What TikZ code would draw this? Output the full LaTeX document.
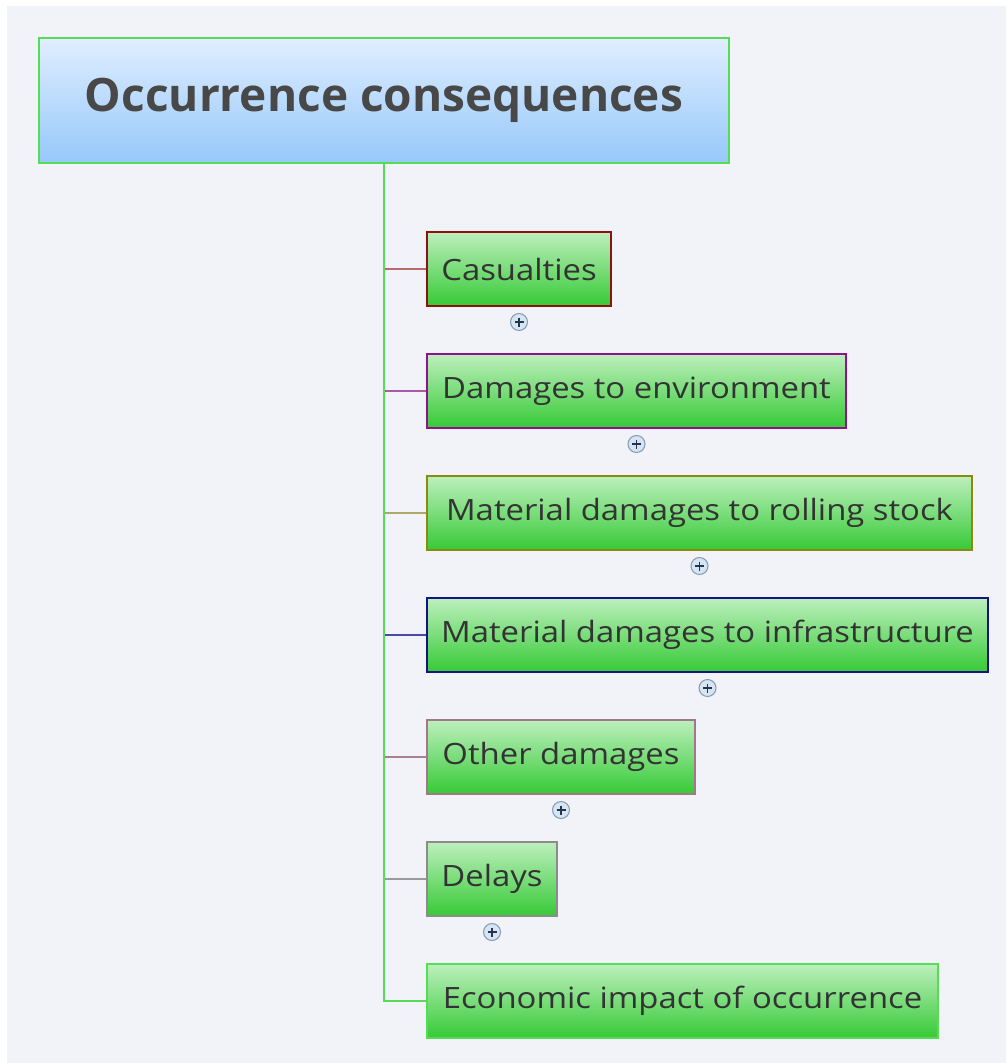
\documentclass[tikz,border=0pt]{standalone}
\usepackage{fontspec}
\setmainfont{Open Sans}
\newfontfamily\childfont[FakeStretch=1.12]{Open Sans}
\usetikzlibrary{calc}
\definecolor{bgc}{HTML}{F2F3F8}
\definecolor{rootTop}{HTML}{E0EEFF}
\definecolor{rootBot}{HTML}{96C8FA}
\definecolor{trunkc}{HTML}{55DD55}
\definecolor{cTop}{HTML}{BDEFBD}
\definecolor{cBot}{HTML}{36CA36}
\definecolor{txtc}{HTML}{333333}
\definecolor{roottxt}{HTML}{484848}
\definecolor{b1}{HTML}{8E1010}
\definecolor{l1}{HTML}{B86A6A}
\definecolor{b2}{HTML}{901090}
\definecolor{l2}{HTML}{A85AA8}
\definecolor{b3}{HTML}{8A8A10}
\definecolor{l3}{HTML}{B0A868}
\definecolor{b4}{HTML}{141488}
\definecolor{l4}{HTML}{4A4AA8}
\definecolor{b5}{HTML}{A07888}
\definecolor{l5}{HTML}{A8808E}
\definecolor{b6}{HTML}{8C8C8C}
\definecolor{l6}{HTML}{9A9A9A}
\definecolor{b7}{HTML}{55DD55}
\definecolor{plusfill}{HTML}{D4E6F6}
\definecolor{plusline}{HTML}{8C9CB0}
\definecolor{plusdark}{HTML}{2A3448}
\begin{document}
\begin{tikzpicture}[x=0.75pt,y=-0.75pt,
  rootbox/.style={rectangle, inner sep=0pt, draw=trunkc, line width=1.5pt,
    top color=rootTop, bottom color=rootBot, text=roottxt,
    minimum width=690*0.75pt, minimum height=125*0.75pt,
    font=\fontsize{34.5}{40}\selectfont\bfseries},
  childbox/.style={rectangle, anchor=north west, inner sep=0pt, line width=1.5pt,
    top color=cTop, bottom color=cBot, text=txtc,
    minimum height=74*0.75pt, font=\childfont\fontsize{22}{26}\selectfont},
  conn/.style={line width=1.5pt},
  plusicon/.style={circle, inner sep=0pt, minimum size=17*0.75pt, fill=plusfill,
    draw=plusline, line width=0.8pt,
    path picture={
      \draw[plusdark, line width=1.1pt]
        ($(path picture bounding box.center)+(-4.5,0)$) -- ($(path picture bounding box.center)+(4.5,0)$)
        ($(path picture bounding box.center)+(0,-4.5)$) -- ($(path picture bounding box.center)+(0,4.5)$);
    }}
]
\useasboundingbox (0,0) rectangle (1006,1063);
\fill[white] (0,0) rectangle (1006,1063);
\fill[bgc] (7,6) rectangle (1006,1063);

\node[rootbox] (root) at (384,100.5) {Occurrence consequences};

\node[childbox, draw=b1, minimum width=184*0.75pt] (c1) at (426,231) {Casualties};
\node[childbox, draw=b2, minimum width=419*0.75pt] (c2) at (426,353) {Damages to environment};
\node[childbox, draw=b3, minimum width=545*0.75pt] (c3) at (426,475) {Material damages to rolling stock};
\node[childbox, draw=b4, minimum width=561*0.75pt] (c4) at (426,597) {Material damages to infrastructure};
\node[childbox, draw=b5, minimum width=268*0.75pt] (c5) at (426,719) {Other damages};
\node[childbox, draw=b6, minimum width=130*0.75pt] (c6) at (426,841) {Delays};
\node[childbox, draw=b7, minimum width=511*0.75pt] (c7) at (426,963) {Economic impact of occurrence};

\draw[conn, l1] (root.south |- c1.west) -- (c1.west);
\draw[conn, l2] (root.south |- c2.west) -- (c2.west);
\draw[conn, l3] (root.south |- c3.west) -- (c3.west);
\draw[conn, l4] (root.south |- c4.west) -- (c4.west);
\draw[conn, l5] (root.south |- c5.west) -- (c5.west);
\draw[conn, l6] (root.south |- c6.west) -- (c6.west);
\draw[conn, trunkc] (root.south) |- (c7.west);

\node[plusicon] (p1) at ($(c1.south)+(0,15)$) {};
\node[plusicon] (p2) at ($(c2.south)+(0,15)$) {};
\node[plusicon] (p3) at ($(c3.south)+(0,15)$) {};
\node[plusicon] (p4) at ($(c4.south)+(0,15)$) {};
\node[plusicon] (p5) at ($(c5.south)+(0,15)$) {};
\node[plusicon] (p6) at ($(c6.south)+(0,15)$) {};
\end{tikzpicture}
\end{document}
